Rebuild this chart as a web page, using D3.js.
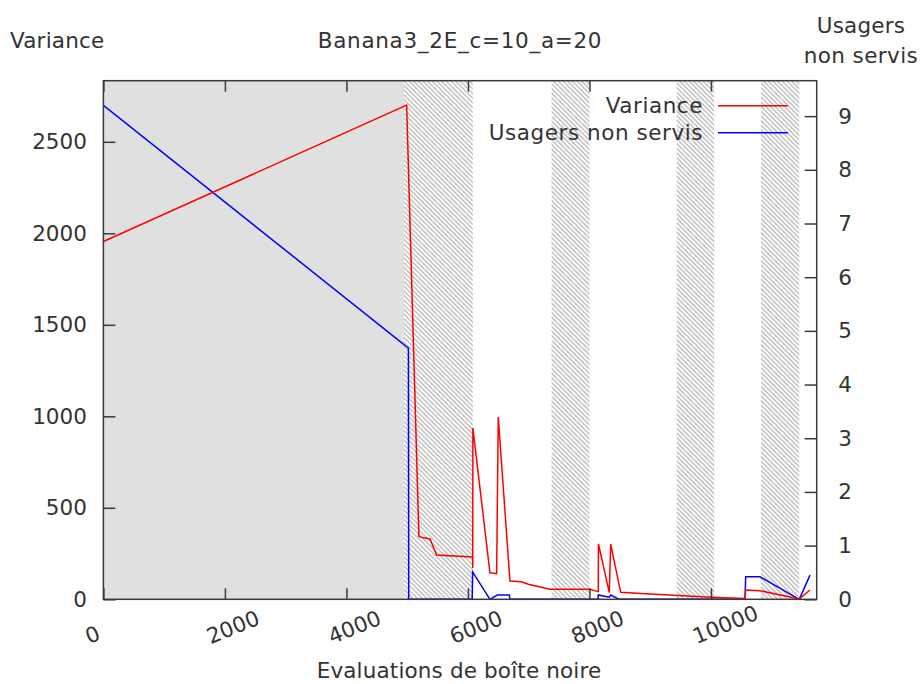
<!DOCTYPE html>
<html>
<head>
<meta charset="utf-8">
<script src="https://cdn.jsdelivr.net/npm/d3@7"></script>
<style>
  body { margin: 0; background: #fff; }
  svg { display: block; font-family: "DejaVu Sans", sans-serif; }
</style>
</head>
<body>
<div id="chart"></div>
<script>
// Variance (axe de gauche)
const varEvals = [0, 4991, 5193, 5374, 5485, 6077, 6079, 6081, 6362, 6472, 6499, 6691, 6884, 6993, 7350, 7997, 8145, 8148, 8326, 8349, 8514, 8996, 10012, 10560, 10571, 10807, 11453, 11630];
const variance = [1955, 2701, 342, 330, 242, 231, 171, 937, 145, 140, 996, 100, 96, 82, 55, 55, 42, 302, 36, 302, 38, 29, 11, 5, 51, 47, 2, 51];

// Usagers non servis (axe de droite)
const usaEvals = [0, 5020, 5025, 6070, 6077, 6362, 6484, 6681, 6691, 8140, 8145, 8326, 8349, 8490, 10560, 10571, 10807, 11453, 11630];
const usagers  = [9.2, 4.68, 0, 0, 0.51, 0, 0.08, 0.08, 0, 0, 0.08, 0.04, 0.08, 0, 0, 0.42, 0.42, 0, 0.45];

// zones
const grayZone = [0, 4947];
const hatchZones = [[4947, 6080], [7376, 8000], [9436, 10054], [10823, 11453]];

const xTicks = [0, 2000, 4000, 6000, 8000, 10000];
const yTicks = [0, 500, 1000, 1500, 2000, 2500];
const y2Ticks = [0, 1, 2, 3, 4, 5, 6, 7, 8, 9];

const W = 917, H = 684;
const L = 103.4, R = 816.7, T = 80.7, B = 599.3;
const textColor = "#333";
const fs = 21.5;

const svg = d3.select("#chart").append("svg")
  .attr("width", W).attr("height", H);

const defs = svg.append("defs");
const pat = defs.append("pattern")
  .attr("id", "hatch")
  .attr("patternUnits", "userSpaceOnUse")
  .attr("width", 3.3).attr("height", 3.3)
  .attr("patternTransform", "rotate(-45)");
pat.append("rect").attr("width", 3.3).attr("height", 3.3).attr("fill", "#fff");
pat.append("line")
  .attr("x1", 0.8).attr("y1", 0).attr("x2", 0.8).attr("y2", 3.3)
  .attr("stroke", "#bcbcbc").attr("stroke-width", 1.4);

defs.append("clipPath").attr("id", "plot")
  .append("rect").attr("x", L).attr("y", T).attr("width", R - L).attr("height", B - T);

const x = d3.scaleLinear().domain([0, 11740]).range([L, R]);
const y = d3.scaleLinear().domain([0, 2834]).range([B, T]);
const y2 = d3.scaleLinear().domain([0, 9.66]).range([B, T]);

// fond gris + zones hachurees
svg.append("rect")
  .attr("x", x(grayZone[0])).attr("y", T)
  .attr("width", x(grayZone[1]) - x(grayZone[0])).attr("height", B - T)
  .attr("fill", "#e0e0e0");

svg.selectAll(".hatch")
  .data(hatchZones)
  .enter()
  .append("rect")
  .attr("class", "hatch")
  .attr("x", d => x(d[0])).attr("y", T)
  .attr("width", d => x(d[1]) - x(d[0])).attr("height", B - T)
  .attr("fill", "url(#hatch)");

// courbes
const lineVar = d3.line().x(d => x(d[0])).y(d => y(d[1]));
const lineUsa = d3.line().x(d => x(d[0])).y(d => y2(d[1]));

const g = svg.append("g").attr("clip-path", "url(#plot)");
g.append("path")
  .datum(d3.zip(usaEvals, usagers))
  .attr("d", lineUsa)
  .attr("fill", "none").attr("stroke", "#0000ff").attr("stroke-width", 1.5);
g.append("path")
  .datum(d3.zip(varEvals, variance))
  .attr("d", lineVar)
  .attr("fill", "none").attr("stroke", "#ff0000").attr("stroke-width", 1.5);

// cadre
svg.append("rect")
  .attr("x", L).attr("y", T).attr("width", R - L).attr("height", B - T)
  .attr("fill", "none").attr("stroke", "#3a3a3a").attr("stroke-width", 1.5);

const fmt = d3.format("d");

// axe x (bas) avec etiquettes inclinees
const xAxis = svg.append("g")
  .attr("transform", `translate(0,${B})`)
  .call(d3.axisBottom(x).tickValues(xTicks).tickSize(-11).tickSizeOuter(0).tickFormat(fmt));
xAxis.select(".domain").remove();
xAxis.selectAll("line").attr("stroke", "#3a3a3a").attr("stroke-width", 1.5);
xAxis.selectAll("text")
  .attr("y", null).attr("dy", null)
  .attr("text-anchor", "start")
  .attr("fill", textColor)
  .style("font-size", fs + "px")
  .style("font-family", "DejaVu Sans")
  .attr("transform", "translate(-15,45) rotate(-22)");

// ticks miroir en haut
const xTop = svg.append("g")
  .attr("transform", `translate(0,${T})`)
  .call(d3.axisTop(x).tickValues(xTicks).tickSize(-11).tickSizeOuter(0).tickFormat(""));
xTop.select(".domain").remove();
xTop.selectAll("line").attr("stroke", "#3a3a3a").attr("stroke-width", 1.5);

// axe y gauche
const yAxis = svg.append("g")
  .attr("transform", `translate(${L},0)`)
  .call(d3.axisLeft(y).tickValues(yTicks).tickSize(-12).tickSizeOuter(0).tickFormat(fmt));
yAxis.select(".domain").remove();
yAxis.selectAll("line").attr("stroke", "#3a3a3a").attr("stroke-width", 1.5);
yAxis.selectAll("text")
  .attr("x", -16.5)
  .attr("fill", textColor)
  .style("font-size", fs + "px")
  .style("font-family", "DejaVu Sans");

// axe y droit
const y2Axis = svg.append("g")
  .attr("transform", `translate(${R},0)`)
  .call(d3.axisRight(y2).tickValues(y2Ticks).tickSize(-12).tickSizeOuter(0));
y2Axis.select(".domain").remove();
y2Axis.selectAll("line").attr("stroke", "#3a3a3a").attr("stroke-width", 1.5);
y2Axis.selectAll("text")
  .attr("x", 21.5)
  .attr("fill", textColor)
  .style("font-size", fs + "px")
  .style("font-family", "DejaVu Sans");

// titres
const txt = (tx, ty, s, anchor, ls) => svg.append("text")
  .attr("x", tx).attr("y", ty)
  .attr("text-anchor", anchor || "middle")
  .attr("fill", textColor)
  .style("font-size", fs + "px")
  .style("letter-spacing", (ls || 0) + "px")
  .text(s);

txt(460, 48, "Banana3_2E_c=10_a=20", "middle", 0.7);
txt(10, 48, "Variance", "start", 0.2);
txt(861, 33, "Usagers", "middle", 0.2);
txt(861, 63, "non servis", "middle", 0.4);
txt(459, 678, "Evaluations de boîte noire", "middle", 0.15);

// legende
const legend = [
  {name: "Variance", color: "#ff0000", yy: 105.7},
  {name: "Usagers non servis", color: "#0000ff", yy: 132.7}
];
legend.forEach(d => {
  txt(703, d.yy + 7.5, d.name, "end", 0.55);
  svg.append("line")
    .attr("x1", 718).attr("x2", 788)
    .attr("y1", d.yy).attr("y2", d.yy)
    .attr("stroke", d.color).attr("stroke-width", 1.5);
});
</script>
</body>
</html>
